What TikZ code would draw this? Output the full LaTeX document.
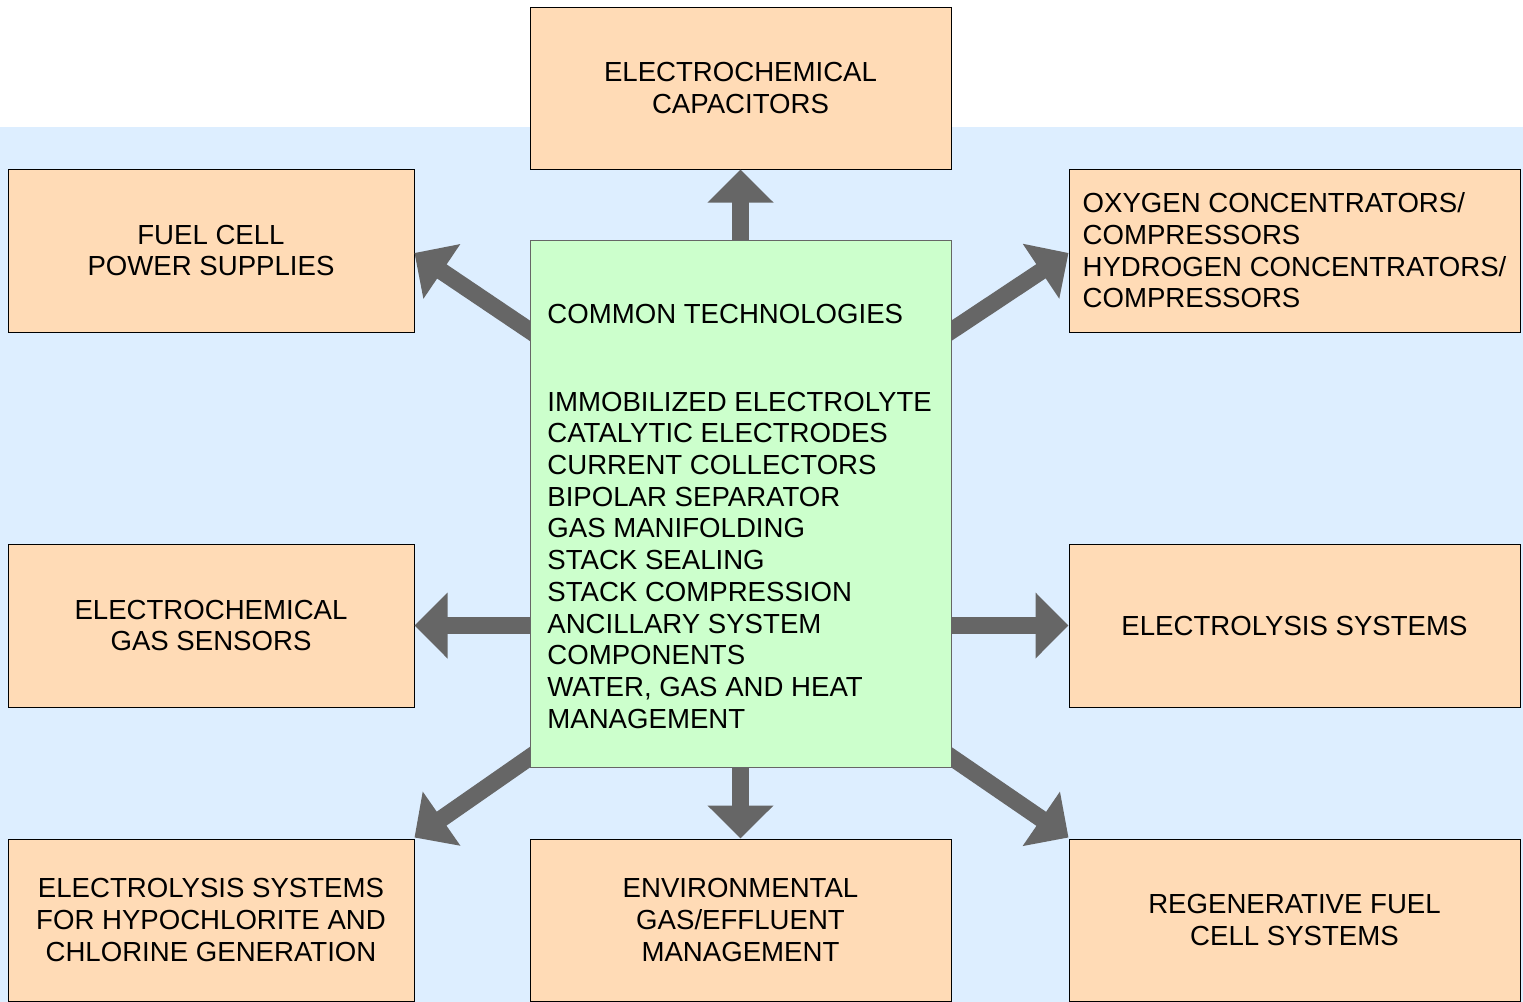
\documentclass[tikz,border=0pt]{standalone}
\usepackage{fontspec}
\setmainfont{Liberation Sans}
\usetikzlibrary{arrows.meta,calc}
\definecolor{bgblue}{HTML}{DDEEFF}
\definecolor{peach}{HTML}{FFDBB6}
\definecolor{mint}{HTML}{CCFFCC}
\definecolor{arrowgray}{HTML}{666666}
\begin{document}
\begin{tikzpicture}[x=0.5pt,y=-0.5pt,
  txt/.style={font=\fontsize{13.8}{15.85}\selectfont},
  box/.style={txt,draw=black,line width=0.5pt,fill=peach,inner sep=0pt,align=center},
  lbox/.style={box,minimum width=203pt,minimum height=81.5pt},
  mbox/.style={box,minimum width=210.5pt,minimum height=81pt},
  rbox/.style={box,minimum width=225.5pt,minimum height=81.5pt},
  bigarrow/.style={draw=arrowgray,line width=8.5pt,-{Triangle[width=32pt,length=16.5pt]}}
]
\useasboundingbox (0,0) rectangle (1523,1002);
\fill[bgblue] (0,127) rectangle (1523,1002);

\node[mbox] (cap) at (740.5,88) {ELECTROCHEMICAL\\CAPACITORS};
\node[lbox] (fuel) at (211,250.5) {FUEL CELL\\POWER SUPPLIES};
\node[rbox,align=left] (oxy) at (1294.5,250.5) {OXYGEN CONCENTRATORS/\\COMPRESSORS\\HYDROGEN CONCENTRATORS/\\COMPRESSORS};
\node[lbox] (gas) at (211,625.5) {ELECTROCHEMICAL\\GAS SENSORS};
\node[rbox] (elec) at (1294.5,625.5) {ELECTROLYSIS SYSTEMS};
\node[lbox,minimum height=81pt] (hypo) at (211,920) {ELECTROLYSIS SYSTEMS\\FOR HYPOCHLORITE AND\\CHLORINE GENERATION};
\node[mbox] (env) at (740.5,920) {ENVIRONMENTAL\\GAS/EFFLUENT\\MANAGEMENT};
\node[rbox,minimum height=81pt] (regen) at (1294.5,920) {REGENERATIVE FUEL\\CELL SYSTEMS};

% centre box placeholder for anchors
\path (740.5,503.5) node[minimum width=210.5pt,minimum height=263.5pt,inner sep=0pt] (core) {};

% arrows (drawn beneath the centre box)
\draw[bigarrow] ($(core.north)+(0,20)$) -- (cap.south);
\draw[bigarrow] ($(core.south)+(0,-20)$) -- (env.north);
\draw[bigarrow] ($(gas.east -| core.west)+(20,0)$) -- (gas.east);
\draw[bigarrow] ($(elec.west -| core.east)+(-20,0)$) -- (elec.west);
\draw[bigarrow] ($(core.north west)+(17.4,102.7)$) -- ($(fuel.east)+(0,2.5)$);
\draw[bigarrow] ($(core.north east)+(-17.4,102.7)$) -- ($(oxy.west)+(0,2.5)$);
\draw[bigarrow] ($(core.south west)+(17.4,-22.1)$) -- ($(hypo.north east)+(0,-1)$);
\draw[bigarrow] ($(core.south east)+(-17.4,-22.1)$) -- ($(regen.north west)+(0,-1)$);

\node[draw=arrowgray,line width=0.5pt,fill=mint,minimum width=210.5pt,minimum height=263.5pt,inner sep=0pt] (green) at (core) {};
\node[txt,align=left,anchor=north west,inner sep=0pt] (ctext) at (547,303.5)
 {COMMON TECHNOLOGIES\\[28.15pt]IMMOBILIZED ELECTROLYTE\\CATALYTIC ELECTRODES\\CURRENT COLLECTORS\\BIPOLAR SEPARATOR\\GAS MANIFOLDING\\STACK SEALING\\STACK COMPRESSION\\ANCILLARY SYSTEM\\COMPONENTS\\WATER, GAS AND HEAT\\MANAGEMENT};
\end{tikzpicture}
\end{document}
